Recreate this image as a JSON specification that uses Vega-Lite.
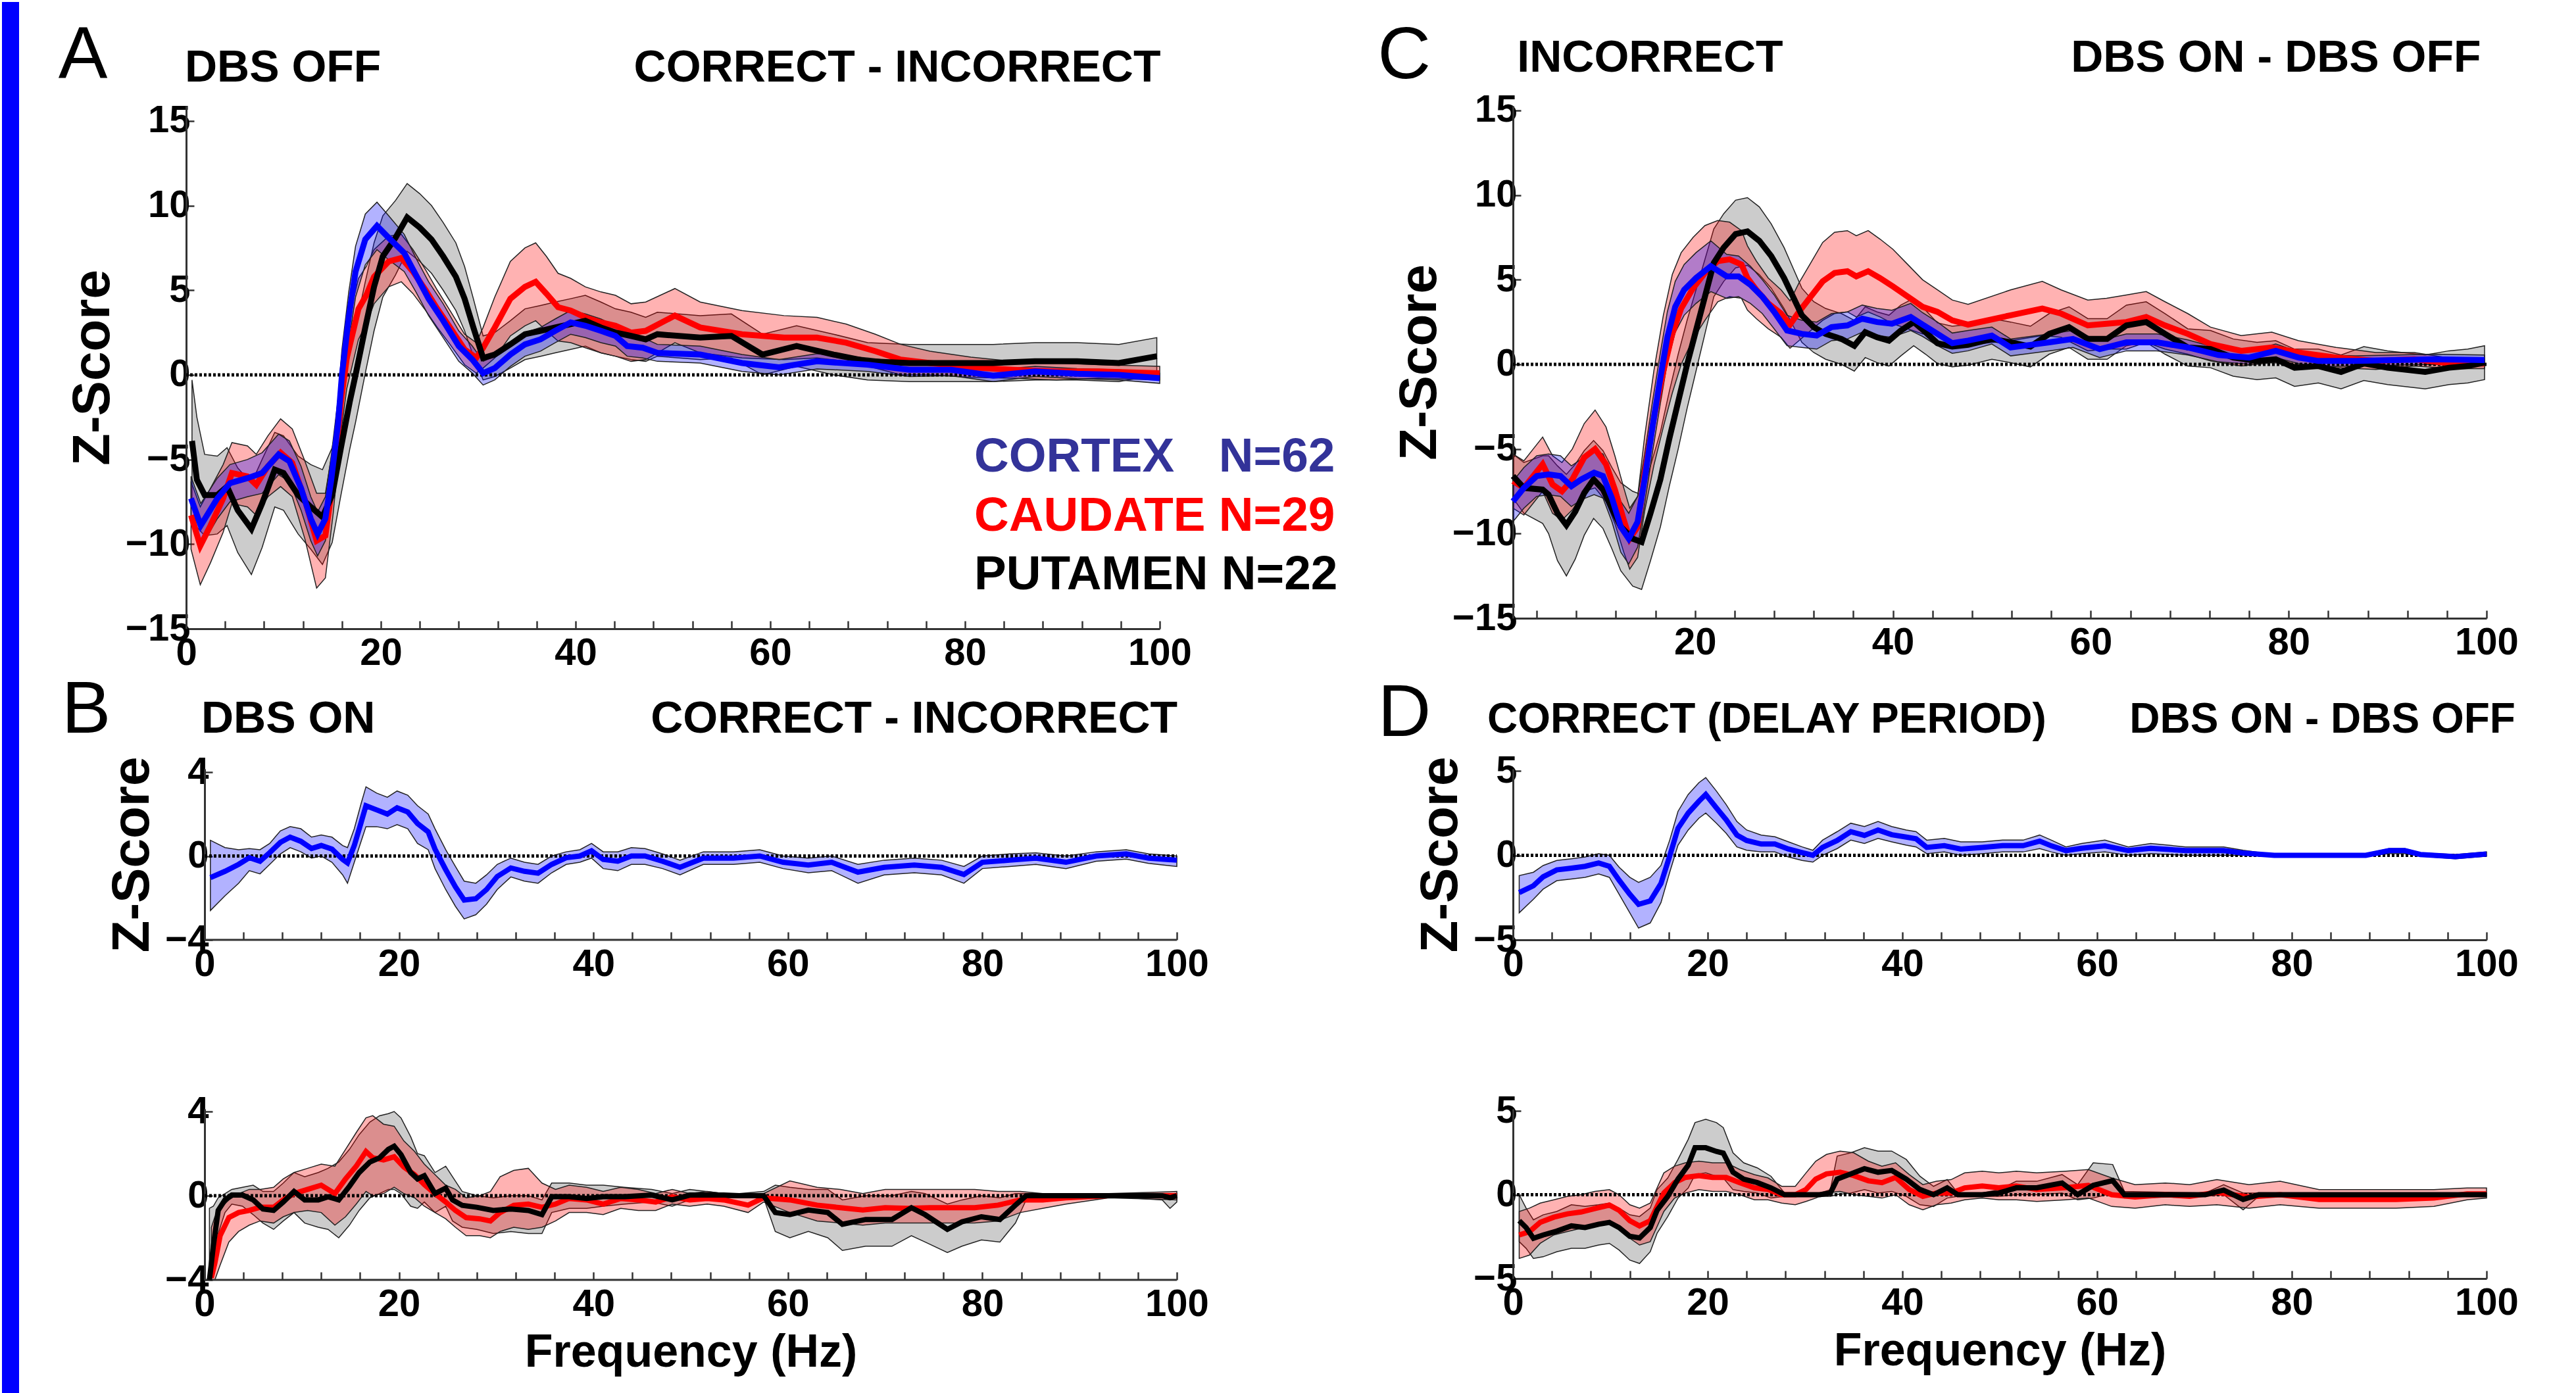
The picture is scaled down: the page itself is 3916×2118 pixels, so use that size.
{
"$schema":"https://vega.github.io/schema/vega-lite/v6.json",
"background":"white",
"padding":{"left":3,"top":0,"right":0,"bottom":0},
"datasets":{
"Ab":[{"f":0.5,"m":-7.3,"lo":-8.6,"hi":-6.0},{"f":1.5,"m":-8.9,"lo":-10.2,"hi":-7.6},{"f":3.2,"m":-7.3,"lo":-8.5,"hi":-6.1},{"f":4.5,"m":-6.4,"lo":-7.5,"hi":-5.3},{"f":6.3,"m":-6.1,"lo":-7.2,"hi":-5.0},{"f":7.8,"m":-5.8,"lo":-7.0,"hi":-4.6},{"f":9.5,"m":-4.7,"lo":-5.9,"hi":-3.5},{"f":10.6,"m":-5.1,"lo":-6.3,"hi":-3.9},{"f":11.8,"m":-6.7,"lo":-8.0,"hi":-5.4},{"f":12.8,"m":-8.5,"lo":-9.8,"hi":-7.2},{"f":13.5,"m":-9.4,"lo":-10.7,"hi":-8.1},{"f":14.3,"m":-8.5,"lo":-9.8,"hi":-7.2},{"f":14.9,"m":-6.2,"lo":-7.6,"hi":-4.8},{"f":15.6,"m":-2.9,"lo":-4.4,"hi":-1.4},{"f":16.0,"m":0,"lo":-1.5,"hi":1.5},{"f":16.7,"m":3.4,"lo":1.9,"hi":4.9},{"f":17.4,"m":6.1,"lo":4.6,"hi":7.6},{"f":18.4,"m":8.0,"lo":6.5,"hi":9.5},{"f":19.6,"m":8.8,"lo":7.4,"hi":10.2},{"f":20.8,"m":8.1,"lo":6.8,"hi":9.4},{"f":22.4,"m":7.2,"lo":6.1,"hi":8.3},{"f":23.6,"m":5.9,"lo":4.9,"hi":6.9},{"f":24.9,"m":4.5,"lo":3.5,"hi":5.5},{"f":26.4,"m":3.2,"lo":2.2,"hi":4.2},{"f":28.0,"m":1.7,"lo":0.8,"hi":2.6},{"f":29.4,"m":0.9,"lo":0.1,"hi":1.7},{"f":30.5,"m":0.1,"lo":-0.6,"hi":0.8},{"f":31.7,"m":0.4,"lo":-0.3,"hi":1.1},{"f":33.3,"m":1.2,"lo":0.5,"hi":1.9},{"f":34.8,"m":1.8,"lo":1.1,"hi":2.5},{"f":36.4,"m":2.1,"lo":1.4,"hi":2.8},{"f":37.9,"m":2.6,"lo":1.9,"hi":3.3},{"f":39.5,"m":3.1,"lo":2.4,"hi":3.8},{"f":41.0,"m":2.9,"lo":2.2,"hi":3.6},{"f":42.6,"m":2.6,"lo":1.9,"hi":3.3},{"f":44.1,"m":2.3,"lo":1.7,"hi":2.9},{"f":45.3,"m":1.7,"lo":1.1,"hi":2.3},{"f":46.9,"m":1.6,"lo":1.0,"hi":2.2},{"f":48.4,"m":1.3,"lo":0.8,"hi":1.8},{"f":52.8,"m":1.2,"lo":0.7,"hi":1.7},{"f":57.1,"m":0.7,"lo":0.2,"hi":1.2},{"f":60.9,"m":0.45,"lo":0.0,"hi":0.9},{"f":64.8,"m":0.8,"lo":0.35,"hi":1.25},{"f":70.0,"m":0.6,"lo":0.2,"hi":1.0},{"f":74.3,"m":0.3,"lo":-0.1,"hi":0.7},{"f":78.6,"m":0.3,"lo":-0.05,"hi":0.65},{"f":82.9,"m":-0.05,"lo":-0.4,"hi":0.3},{"f":87.2,"m":0.2,"lo":-0.1,"hi":0.5},{"f":91.5,"m":0.07,"lo":-0.23,"hi":0.37},{"f":95.8,"m":0,"lo":-0.3,"hi":0.3},{"f":100,"m":-0.2,"lo":-0.5,"hi":0.1}],
"Ar":[{"f":0.5,"m":-8.3,"lo":-10.3,"hi":-6.3},{"f":1.45,"m":-10.1,"lo":-12.4,"hi":-7.8},{"f":2.5,"m":-8.9,"lo":-11.1,"hi":-6.7},{"f":3.8,"m":-7.3,"lo":-9.3,"hi":-5.3},{"f":4.7,"m":-5.8,"lo":-7.6,"hi":-4.0},{"f":6.3,"m":-6.0,"lo":-7.8,"hi":-4.2},{"f":7.2,"m":-6.5,"lo":-8.3,"hi":-4.7},{"f":8.4,"m":-5.4,"lo":-7.2,"hi":-3.6},{"f":9.7,"m":-4.6,"lo":-6.6,"hi":-2.6},{"f":10.9,"m":-5.2,"lo":-7.2,"hi":-3.2},{"f":12.2,"m":-7.4,"lo":-9.7,"hi":-5.1},{"f":13.4,"m":-9.8,"lo":-12.6,"hi":-7.0},{"f":14.3,"m":-9.5,"lo":-12.0,"hi":-7.0},{"f":15.1,"m":-6.2,"lo":-8.2,"hi":-4.2},{"f":15.9,"m":-1.6,"lo":-3.4,"hi":0.2},{"f":16.5,"m":1.0,"lo":-0.8,"hi":2.8},{"f":17.7,"m":3.9,"lo":2.1,"hi":5.7},{"f":18.5,"m":4.7,"lo":3.0,"hi":6.4},{"f":19.3,"m":5.8,"lo":4.2,"hi":7.4},{"f":20.8,"m":6.7,"lo":5.2,"hi":8.2},{"f":22.1,"m":6.9,"lo":5.5,"hi":8.3},{"f":23.3,"m":6.1,"lo":4.8,"hi":7.4},{"f":24.6,"m":5.0,"lo":3.8,"hi":6.2},{"f":25.8,"m":3.9,"lo":2.8,"hi":5.0},{"f":27.1,"m":2.8,"lo":1.8,"hi":3.8},{"f":28.6,"m":1.5,"lo":0.6,"hi":2.4},{"f":29.8,"m":1.0,"lo":0.1,"hi":1.9},{"f":30.5,"m":1.6,"lo":0.4,"hi":2.8},{"f":31.7,"m":2.8,"lo":1.0,"hi":4.6},{"f":33.3,"m":4.5,"lo":2.3,"hi":6.7},{"f":34.8,"m":5.2,"lo":2.9,"hi":7.5},{"f":35.9,"m":5.5,"lo":3.2,"hi":7.8},{"f":37.0,"m":4.8,"lo":2.6,"hi":7.0},{"f":38.2,"m":4.0,"lo":2.0,"hi":6.0},{"f":39.5,"m":3.8,"lo":1.9,"hi":5.7},{"f":41.0,"m":3.4,"lo":1.6,"hi":5.2},{"f":42.6,"m":3.1,"lo":1.3,"hi":4.9},{"f":44.1,"m":2.9,"lo":1.1,"hi":4.7},{"f":45.7,"m":2.5,"lo":0.8,"hi":4.2},{"f":47.2,"m":2.6,"lo":0.9,"hi":4.3},{"f":50.2,"m":3.5,"lo":1.9,"hi":5.1},{"f":52.8,"m":2.8,"lo":1.3,"hi":4.3},{"f":57.1,"m":2.4,"lo":1.0,"hi":3.8},{"f":61.4,"m":2.2,"lo":0.9,"hi":3.5},{"f":64.8,"m":2.2,"lo":1.0,"hi":3.4},{"f":67.8,"m":1.9,"lo":0.8,"hi":3.0},{"f":70.8,"m":1.4,"lo":0.4,"hi":2.4},{"f":73.4,"m":0.9,"lo":0.0,"hi":1.8},{"f":76.4,"m":0.7,"lo":0.0,"hi":1.4},{"f":80.6,"m":0.45,"lo":-0.15,"hi":1.05},{"f":84.9,"m":0.3,"lo":-0.2,"hi":0.8},{"f":89.4,"m":0.2,"lo":-0.3,"hi":0.7},{"f":93.7,"m":0.2,"lo":-0.2,"hi":0.6},{"f":100,"m":0.1,"lo":-0.3,"hi":0.5}],
"Ak":[{"f":0.6,"m":-3.9,"lo":-7.5,"hi":-0.3},{"f":1.1,"m":-6.2,"lo":-9.0,"hi":-2.5},{"f":1.9,"m":-7.1,"lo":-9.5,"hi":-4.7},{"f":3.2,"m":-7.1,"lo":-9.4,"hi":-4.8},{"f":4.2,"m":-6.6,"lo":-8.9,"hi":-4.3},{"f":5.3,"m":-8.0,"lo":-10.5,"hi":-5.5},{"f":6.7,"m":-9.1,"lo":-11.8,"hi":-6.4},{"f":7.8,"m":-7.6,"lo":-10.2,"hi":-5.0},{"f":9.1,"m":-5.6,"lo":-7.8,"hi":-3.4},{"f":10.0,"m":-5.8,"lo":-8.0,"hi":-3.6},{"f":11.5,"m":-7.1,"lo":-9.4,"hi":-4.8},{"f":12.8,"m":-7.8,"lo":-10.3,"hi":-5.3},{"f":14.0,"m":-8.4,"lo":-11.2,"hi":-5.6},{"f":15.0,"m":-7.1,"lo":-9.9,"hi":-4.3},{"f":15.9,"m":-4.3,"lo":-7.1,"hi":-1.5},{"f":16.8,"m":-1.6,"lo":-4.4,"hi":1.2},{"f":17.4,"m":0,"lo":-2.8,"hi":2.8},{"f":18.4,"m":2.8,"lo":0.1,"hi":5.5},{"f":19.3,"m":5.2,"lo":2.6,"hi":7.8},{"f":20.2,"m":7.0,"lo":4.6,"hi":9.4},{"f":21.5,"m":8.1,"lo":5.9,"hi":10.3},{"f":22.7,"m":9.3,"lo":7.3,"hi":11.3},{"f":24.0,"m":8.7,"lo":6.7,"hi":10.7},{"f":25.2,"m":8.0,"lo":6.0,"hi":10.0},{"f":26.4,"m":7.0,"lo":5.0,"hi":9.0},{"f":27.7,"m":5.8,"lo":3.8,"hi":7.8},{"f":28.6,"m":4.5,"lo":2.6,"hi":6.4},{"f":29.5,"m":2.8,"lo":1.1,"hi":4.5},{"f":30.5,"m":1.0,"lo":-0.3,"hi":2.3},{"f":31.7,"m":1.2,"lo":-0.1,"hi":2.5},{"f":33.3,"m":1.8,"lo":0.4,"hi":3.2},{"f":34.8,"m":2.4,"lo":0.9,"hi":3.9},{"f":36.4,"m":2.6,"lo":1.1,"hi":4.1},{"f":37.9,"m":2.8,"lo":1.3,"hi":4.3},{"f":39.5,"m":3.0,"lo":1.5,"hi":4.5},{"f":41.0,"m":3.2,"lo":1.7,"hi":4.7},{"f":42.6,"m":2.8,"lo":1.3,"hi":4.3},{"f":44.1,"m":2.5,"lo":1.1,"hi":3.9},{"f":45.7,"m":2.3,"lo":0.9,"hi":3.7},{"f":47.2,"m":2.1,"lo":0.8,"hi":3.4},{"f":48.4,"m":2.4,"lo":1.1,"hi":3.7},{"f":52.8,"m":2.2,"lo":0.9,"hi":3.5},{"f":56.0,"m":2.3,"lo":1.0,"hi":3.6},{"f":59.2,"m":1.2,"lo":0.0,"hi":2.4},{"f":62.7,"m":1.7,"lo":0.5,"hi":2.9},{"f":66.5,"m":1.2,"lo":0.0,"hi":2.4},{"f":70.0,"m":0.8,"lo":-0.3,"hi":1.9},{"f":74.3,"m":0.7,"lo":-0.4,"hi":1.8},{"f":78.6,"m":0.7,"lo":-0.4,"hi":1.8},{"f":82.9,"m":0.7,"lo":-0.4,"hi":1.8},{"f":87.2,"m":0.8,"lo":-0.3,"hi":1.9},{"f":91.5,"m":0.8,"lo":-0.3,"hi":1.9},{"f":95.8,"m":0.7,"lo":-0.4,"hi":1.8},{"f":99.7,"m":1.1,"lo":0.0,"hi":2.2}],
"Cb":[{"f":1.6,"m":-8.1,"lo":-9.3,"hi":-6.9},{"f":2.7,"m":-7.3,"lo":-8.5,"hi":-6.1},{"f":4.0,"m":-6.6,"lo":-7.8,"hi":-5.4},{"f":5.2,"m":-6.5,"lo":-7.7,"hi":-5.3},{"f":6.4,"m":-6.6,"lo":-7.8,"hi":-5.4},{"f":7.5,"m":-7.2,"lo":-8.4,"hi":-6.0},{"f":8.5,"m":-6.8,"lo":-8.0,"hi":-5.6},{"f":9.8,"m":-6.4,"lo":-7.7,"hi":-5.1},{"f":10.7,"m":-6.6,"lo":-7.9,"hi":-5.3},{"f":11.6,"m":-7.9,"lo":-9.3,"hi":-6.5},{"f":12.5,"m":-9.6,"lo":-11.1,"hi":-8.1},{"f":13.3,"m":-10.3,"lo":-11.8,"hi":-8.8},{"f":14.2,"m":-9.3,"lo":-10.8,"hi":-7.8},{"f":14.9,"m":-6.8,"lo":-8.3,"hi":-5.3},{"f":15.7,"m":-3.7,"lo":-5.2,"hi":-2.2},{"f":16.5,"m":-0.8,"lo":-2.3,"hi":0.7},{"f":17.2,"m":1.6,"lo":0.1,"hi":3.1},{"f":18.0,"m":3.4,"lo":1.9,"hi":4.9},{"f":18.9,"m":4.4,"lo":2.9,"hi":5.9},{"f":20.1,"m":5.1,"lo":3.6,"hi":6.6},{"f":21.6,"m":5.8,"lo":4.3,"hi":7.3},{"f":23.2,"m":5.2,"lo":3.9,"hi":6.5},{"f":24.4,"m":5.2,"lo":4.0,"hi":6.4},{"f":25.6,"m":4.7,"lo":3.6,"hi":5.8},{"f":26.8,"m":4.0,"lo":3.0,"hi":5.0},{"f":28.0,"m":3.1,"lo":2.1,"hi":4.1},{"f":29.3,"m":2.0,"lo":1.1,"hi":2.9},{"f":30.8,"m":1.8,"lo":1.0,"hi":2.6},{"f":32.3,"m":1.7,"lo":0.9,"hi":2.5},{"f":33.8,"m":2.2,"lo":1.4,"hi":3.0},{"f":35.4,"m":2.3,"lo":1.5,"hi":3.1},{"f":36.9,"m":2.7,"lo":1.9,"hi":3.5},{"f":38.4,"m":2.5,"lo":1.7,"hi":3.3},{"f":39.9,"m":2.4,"lo":1.6,"hi":3.2},{"f":41.8,"m":2.8,"lo":2.0,"hi":3.6},{"f":43.0,"m":2.35,"lo":1.65,"hi":3.05},{"f":44.5,"m":1.8,"lo":1.1,"hi":2.5},{"f":46.0,"m":1.25,"lo":0.65,"hi":1.85},{"f":47.6,"m":1.4,"lo":0.8,"hi":2.0},{"f":50.0,"m":1.7,"lo":1.2,"hi":2.2},{"f":51.9,"m":1.0,"lo":0.5,"hi":1.5},{"f":53.9,"m":1.15,"lo":0.65,"hi":1.65},{"f":55.8,"m":1.3,"lo":0.8,"hi":1.8},{"f":58.2,"m":1.5,"lo":1.0,"hi":2.0},{"f":60.9,"m":0.9,"lo":0.4,"hi":1.4},{"f":63.6,"m":1.3,"lo":0.8,"hi":1.8},{"f":66.7,"m":1.3,"lo":0.8,"hi":1.8},{"f":69.8,"m":1.0,"lo":0.55,"hi":1.45},{"f":72.9,"m":0.55,"lo":0.15,"hi":0.95},{"f":76.0,"m":0.4,"lo":0.0,"hi":0.8},{"f":78.7,"m":0.8,"lo":0.4,"hi":1.2},{"f":81.0,"m":0.4,"lo":0.05,"hi":0.75},{"f":83.0,"m":0.2,"lo":-0.15,"hi":0.55},{"f":86.8,"m":0.2,"lo":-0.1,"hi":0.5},{"f":90.7,"m":0.25,"lo":-0.05,"hi":0.55},{"f":94.6,"m":0.3,"lo":0.0,"hi":0.6},{"f":99.8,"m":0.25,"lo":-0.05,"hi":0.55}],
"Cr":[{"f":1.6,"m":-6.9,"lo":-8.5,"hi":-5.3},{"f":2.7,"m":-7.3,"lo":-8.9,"hi":-5.7},{"f":3.65,"m":-6.6,"lo":-8.2,"hi":-5.0},{"f":4.6,"m":-5.9,"lo":-7.5,"hi":-4.3},{"f":5.6,"m":-7.1,"lo":-8.8,"hi":-5.4},{"f":6.55,"m":-7.5,"lo":-9.2,"hi":-5.8},{"f":7.6,"m":-6.8,"lo":-8.6,"hi":-5.0},{"f":8.8,"m":-5.5,"lo":-7.5,"hi":-3.5},{"f":9.9,"m":-5.0,"lo":-7.3,"hi":-2.7},{"f":11.0,"m":-5.9,"lo":-8.1,"hi":-3.7},{"f":11.9,"m":-7.4,"lo":-9.4,"hi":-5.4},{"f":12.8,"m":-9.2,"lo":-11.1,"hi":-7.3},{"f":13.4,"m":-10.3,"lo":-12.1,"hi":-8.5},{"f":14.2,"m":-9.6,"lo":-11.4,"hi":-7.8},{"f":14.9,"m":-6.5,"lo":-8.7,"hi":-4.3},{"f":15.85,"m":-3.15,"lo":-5.95,"hi":-0.35},{"f":16.8,"m":-0.4,"lo":-3.7,"hi":2.9},{"f":17.7,"m":1.8,"lo":-1.7,"hi":5.3},{"f":18.6,"m":3.3,"lo":0.0,"hi":6.6},{"f":19.8,"m":4.5,"lo":1.5,"hi":7.5},{"f":21.0,"m":5.4,"lo":2.6,"hi":8.2},{"f":22.3,"m":6.1,"lo":3.7,"hi":8.5},{"f":23.5,"m":6.2,"lo":4.0,"hi":8.4},{"f":24.7,"m":5.9,"lo":3.9,"hi":7.9},{"f":25.3,"m":5.1,"lo":3.2,"hi":7.0},{"f":26.2,"m":4.4,"lo":2.7,"hi":6.1},{"f":27.4,"m":3.6,"lo":2.1,"hi":5.1},{"f":28.7,"m":3.0,"lo":1.6,"hi":4.4},{"f":29.6,"m":2.35,"lo":0.95,"hi":3.75},{"f":30.5,"m":3.1,"lo":1.4,"hi":4.8},{"f":31.7,"m":4.0,"lo":2.0,"hi":6.0},{"f":32.9,"m":4.9,"lo":2.6,"hi":7.2},{"f":34.1,"m":5.4,"lo":3.0,"hi":7.8},{"f":35.4,"m":5.5,"lo":3.1,"hi":7.9},{"f":36.3,"m":5.2,"lo":2.8,"hi":7.6},{"f":37.5,"m":5.5,"lo":3.1,"hi":7.9},{"f":38.7,"m":5.1,"lo":2.8,"hi":7.4},{"f":40.0,"m":4.6,"lo":2.4,"hi":6.8},{"f":41.5,"m":4.0,"lo":2.1,"hi":5.9},{"f":43.0,"m":3.4,"lo":1.8,"hi":5.0},{"f":44.5,"m":3.1,"lo":1.8,"hi":4.4},{"f":46.0,"m":2.6,"lo":1.4,"hi":3.8},{"f":47.6,"m":2.35,"lo":1.15,"hi":3.55},{"f":51.9,"m":2.9,"lo":1.4,"hi":4.4},{"f":55.1,"m":3.3,"lo":1.7,"hi":4.9},{"f":57.0,"m":3.0,"lo":1.6,"hi":4.4},{"f":59.7,"m":2.3,"lo":0.8,"hi":3.8},{"f":61.6,"m":2.4,"lo":0.9,"hi":3.9},{"f":63.6,"m":2.5,"lo":0.9,"hi":4.1},{"f":65.6,"m":2.8,"lo":1.3,"hi":4.3},{"f":67.5,"m":2.3,"lo":0.9,"hi":3.7},{"f":69.8,"m":1.8,"lo":0.6,"hi":3.0},{"f":72.1,"m":1.2,"lo":0.2,"hi":2.2},{"f":75.2,"m":0.8,"lo":-0.1,"hi":1.7},{"f":78.3,"m":1.0,"lo":0.1,"hi":1.9},{"f":81.0,"m":0.7,"lo":0.0,"hi":1.4},{"f":84.8,"m":0.4,"lo":-0.2,"hi":1.0},{"f":88.8,"m":0.2,"lo":-0.3,"hi":0.7},{"f":92.7,"m":0.3,"lo":-0.1,"hi":0.7},{"f":96.5,"m":0.05,"lo":-0.25,"hi":0.35},{"f":99.8,"m":0.05,"lo":-0.25,"hi":0.35}],
"Ck":[{"f":1.6,"m":-6.6,"lo":-7.9,"hi":-5.3},{"f":2.7,"m":-7.3,"lo":-8.8,"hi":-5.8},{"f":4.6,"m":-7.4,"lo":-9.4,"hi":-5.4},{"f":5.2,"m":-7.7,"lo":-10.0,"hi":-5.4},{"f":6.1,"m":-8.8,"lo":-11.6,"hi":-6.0},{"f":7.0,"m":-9.5,"lo":-12.5,"hi":-6.5},{"f":7.9,"m":-8.7,"lo":-11.5,"hi":-5.9},{"f":8.8,"m":-7.6,"lo":-10.1,"hi":-5.1},{"f":9.75,"m":-6.8,"lo":-9.1,"hi":-4.5},{"f":10.7,"m":-7.4,"lo":-9.7,"hi":-5.1},{"f":11.6,"m":-8.5,"lo":-10.9,"hi":-6.1},{"f":12.5,"m":-9.6,"lo":-12.2,"hi":-7.0},{"f":13.7,"m":-10.3,"lo":-13.1,"hi":-7.5},{"f":14.6,"m":-10.5,"lo":-13.3,"hi":-7.7},{"f":15.5,"m":-8.8,"lo":-11.6,"hi":-6.0},{"f":16.5,"m":-6.8,"lo":-9.6,"hi":-4.0},{"f":17.4,"m":-4.4,"lo":-7.2,"hi":-1.6},{"f":18.3,"m":-2.2,"lo":-5.0,"hi":0.6},{"f":19.2,"m":0,"lo":-2.6,"hi":2.6},{"f":20.1,"m":2.0,"lo":-0.4,"hi":4.4},{"f":21.0,"m":4.0,"lo":1.8,"hi":6.2},{"f":21.9,"m":6.0,"lo":4.0,"hi":8.0},{"f":22.9,"m":6.9,"lo":4.9,"hi":8.9},{"f":24.1,"m":7.7,"lo":5.7,"hi":9.7},{"f":25.3,"m":7.85,"lo":5.85,"hi":9.85},{"f":26.5,"m":7.3,"lo":5.3,"hi":9.3},{"f":27.7,"m":6.4,"lo":4.5,"hi":8.3},{"f":29.0,"m":5.1,"lo":3.3,"hi":6.9},{"f":29.9,"m":4.0,"lo":2.3,"hi":5.7},{"f":30.8,"m":2.9,"lo":1.3,"hi":4.5},{"f":32.0,"m":2.2,"lo":0.7,"hi":3.7},{"f":33.2,"m":1.8,"lo":0.3,"hi":3.3},{"f":34.8,"m":1.5,"lo":0.0,"hi":3.0},{"f":36.1,"m":1.1,"lo":-0.4,"hi":2.6},{"f":37.2,"m":1.9,"lo":0.4,"hi":3.4},{"f":38.4,"m":1.6,"lo":0.1,"hi":3.1},{"f":39.6,"m":1.4,"lo":-0.1,"hi":2.9},{"f":40.8,"m":2.0,"lo":0.5,"hi":3.5},{"f":42.1,"m":2.5,"lo":1.1,"hi":3.9},{"f":43.3,"m":1.9,"lo":0.6,"hi":3.2},{"f":44.5,"m":1.25,"lo":0.05,"hi":2.45},{"f":46.0,"m":1.05,"lo":-0.15,"hi":2.25},{"f":47.6,"m":1.15,"lo":-0.05,"hi":2.35},{"f":50.0,"m":1.5,"lo":0.3,"hi":2.7},{"f":51.9,"m":1.3,"lo":0.1,"hi":2.5},{"f":53.9,"m":1.05,"lo":-0.15,"hi":2.25},{"f":55.8,"m":1.8,"lo":0.6,"hi":3.0},{"f":57.8,"m":2.2,"lo":1.0,"hi":3.4},{"f":59.7,"m":1.5,"lo":0.3,"hi":2.7},{"f":61.65,"m":1.5,"lo":0.3,"hi":2.7},{"f":63.6,"m":2.3,"lo":1.1,"hi":3.5},{"f":65.6,"m":2.5,"lo":1.3,"hi":3.7},{"f":67.5,"m":1.8,"lo":0.6,"hi":3.0},{"f":69.8,"m":1.0,"lo":-0.1,"hi":2.1},{"f":72.1,"m":0.9,"lo":-0.2,"hi":2.0},{"f":74.4,"m":0.4,"lo":-0.7,"hi":1.5},{"f":76.8,"m":0.2,"lo":-0.9,"hi":1.3},{"f":78.7,"m":0.3,"lo":-0.8,"hi":1.4},{"f":80.6,"m":-0.2,"lo":-1.3,"hi":0.9},{"f":83.0,"m":-0.1,"lo":-1.1,"hi":0.9},{"f":85.3,"m":-0.45,"lo":-1.45,"hi":0.55},{"f":87.6,"m":0.05,"lo":-0.95,"hi":1.05},{"f":90.0,"m":-0.2,"lo":-1.2,"hi":0.8},{"f":93.8,"m":-0.45,"lo":-1.45,"hi":0.55},{"f":96.2,"m":-0.2,"lo":-1.2,"hi":0.8},{"f":98.1,"m":-0.1,"lo":-1.1,"hi":0.9},{"f":99.8,"m":0.1,"lo":-0.9,"hi":1.1}],
"B1b":[{"f":0.6,"m":-1.03,"lo":-2.6,"hi":0.75},{"f":2.1,"m":-0.73,"lo":-1.9,"hi":0.4},{"f":3.5,"m":-0.4,"lo":-1.3,"hi":0.3},{"f":4.6,"m":-0.08,"lo":-0.7,"hi":0.35},{"f":5.7,"m":-0.25,"lo":-0.85,"hi":0.3},{"f":6.7,"m":0.16,"lo":-0.4,"hi":0.6},{"f":7.8,"m":0.65,"lo":0.1,"hi":1.2},{"f":8.8,"m":0.9,"lo":0.4,"hi":1.4},{"f":9.9,"m":0.7,"lo":0.2,"hi":1.3},{"f":11.0,"m":0.36,"lo":-0.1,"hi":0.9},{"f":12.0,"m":0.5,"lo":0.0,"hi":1.0},{"f":13.1,"m":0.33,"lo":-0.3,"hi":0.9},{"f":14.2,"m":-0.16,"lo":-0.9,"hi":0.5},{"f":14.7,"m":-0.33,"lo":-1.3,"hi":0.4},{"f":15.4,"m":0.5,"lo":-0.3,"hi":1.3},{"f":16.1,"m":1.6,"lo":0.7,"hi":2.5},{"f":16.6,"m":2.4,"lo":1.4,"hi":3.3},{"f":17.7,"m":2.2,"lo":1.4,"hi":3.0},{"f":18.8,"m":2.0,"lo":1.3,"hi":2.8},{"f":19.8,"m":2.3,"lo":1.5,"hi":3.1},{"f":20.9,"m":2.1,"lo":1.3,"hi":2.9},{"f":21.9,"m":1.55,"lo":0.6,"hi":2.4},{"f":23.0,"m":1.15,"lo":0.3,"hi":2.0},{"f":23.7,"m":0.33,"lo":-0.6,"hi":1.3},{"f":24.8,"m":-0.65,"lo":-1.6,"hi":0.3},{"f":25.8,"m":-1.47,"lo":-2.4,"hi":-0.5},{"f":26.7,"m":-2.1,"lo":-3.0,"hi":-1.2},{"f":27.9,"m":-2.04,"lo":-2.8,"hi":-1.3},{"f":29.0,"m":-1.6,"lo":-2.3,"hi":-0.9},{"f":30.1,"m":-0.98,"lo":-1.6,"hi":-0.4},{"f":31.5,"m":-0.57,"lo":-1.0,"hi":-0.1},{"f":32.9,"m":-0.73,"lo":-1.2,"hi":-0.3},{"f":34.3,"m":-0.82,"lo":-1.3,"hi":-0.4},{"f":35.7,"m":-0.4,"lo":-0.8,"hi":0.0},{"f":37.2,"m":-0.08,"lo":-0.4,"hi":0.2},{"f":38.6,"m":0.0,"lo":-0.3,"hi":0.3},{"f":39.8,"m":0.25,"lo":-0.1,"hi":0.6},{"f":41.0,"m":-0.16,"lo":-0.6,"hi":0.2},{"f":42.5,"m":-0.25,"lo":-0.7,"hi":0.2},{"f":43.9,"m":0.0,"lo":-0.4,"hi":0.4},{"f":45.3,"m":0.0,"lo":-0.4,"hi":0.35},{"f":47.1,"m":-0.25,"lo":-0.6,"hi":0.1},{"f":48.9,"m":-0.54,"lo":-0.9,"hi":-0.2},{"f":51.3,"m":-0.1,"lo":-0.4,"hi":0.2},{"f":54.4,"m":-0.1,"lo":-0.4,"hi":0.2},{"f":57.1,"m":0.0,"lo":-0.3,"hi":0.3},{"f":59.5,"m":-0.3,"lo":-0.6,"hi":0.0},{"f":62.1,"m":-0.43,"lo":-0.8,"hi":-0.1},{"f":64.5,"m":-0.3,"lo":-0.7,"hi":0.0},{"f":67.2,"m":-0.77,"lo":-1.3,"hi":-0.4},{"f":69.9,"m":-0.54,"lo":-0.9,"hi":-0.2},{"f":73.0,"m":-0.43,"lo":-0.8,"hi":-0.1},{"f":75.8,"m":-0.54,"lo":-0.9,"hi":-0.2},{"f":78.1,"m":-0.88,"lo":-1.3,"hi":-0.5},{"f":80.0,"m":-0.3,"lo":-0.6,"hi":0.0},{"f":82.8,"m":-0.2,"lo":-0.5,"hi":0.1},{"f":85.5,"m":-0.1,"lo":-0.4,"hi":0.15},{"f":88.6,"m":-0.3,"lo":-0.6,"hi":0.0},{"f":91.7,"m":0.0,"lo":-0.25,"hi":0.2},{"f":94.8,"m":0.1,"lo":-0.15,"hi":0.3},{"f":97.1,"m":-0.1,"lo":-0.35,"hi":0.1},{"f":100,"m":-0.2,"lo":-0.5,"hi":0.0}],
"B2r":[{"f":0.7,"m":-3.9,"lo":-4.0,"hi":-1.5},{"f":1.06,"m":-3.2,"lo":-4.0,"hi":-1.0},{"f":1.6,"m":-1.9,"lo":-3.3,"hi":-0.6},{"f":2.5,"m":-1.04,"lo":-2.2,"hi":-0.2},{"f":3.5,"m":-0.8,"lo":-1.7,"hi":0.1},{"f":4.6,"m":-0.7,"lo":-1.4,"hi":0.3},{"f":5.7,"m":-0.55,"lo":-1.2,"hi":0.3},{"f":7.1,"m":-0.55,"lo":-1.3,"hi":0.4},{"f":8.1,"m":-0.2,"lo":-1.0,"hi":0.8},{"f":9.2,"m":0.1,"lo":-0.8,"hi":1.1},{"f":10.6,"m":0.3,"lo":-0.7,"hi":1.3},{"f":12.0,"m":0.5,"lo":-0.8,"hi":1.5},{"f":13.4,"m":0.1,"lo":-1.4,"hi":1.4},{"f":14.5,"m":0.8,"lo":-1.0,"hi":2.2},{"f":15.6,"m":1.4,"lo":-0.4,"hi":3.0},{"f":16.6,"m":2.1,"lo":0.2,"hi":3.7},{"f":17.3,"m":1.8,"lo":0.0,"hi":3.8},{"f":18.4,"m":1.7,"lo":0.1,"hi":3.4},{"f":19.5,"m":1.85,"lo":0.4,"hi":3.3},{"f":20.5,"m":1.36,"lo":0.1,"hi":2.6},{"f":21.6,"m":1.0,"lo":-0.1,"hi":2.1},{"f":22.6,"m":0.53,"lo":-0.5,"hi":1.5},{"f":23.7,"m":0.1,"lo":-0.8,"hi":1.0},{"f":24.8,"m":-0.3,"lo":-1.1,"hi":0.5},{"f":25.8,"m":-0.7,"lo":-1.5,"hi":0.3},{"f":26.9,"m":-1.04,"lo":-1.9,"hi":-0.1},{"f":28.3,"m":-1.1,"lo":-1.9,"hi":0.0},{"f":29.4,"m":-1.2,"lo":-2.0,"hi":0.2},{"f":30.4,"m":-0.8,"lo":-1.7,"hi":0.9},{"f":31.8,"m":-0.46,"lo":-1.5,"hi":1.2},{"f":33.3,"m":-0.4,"lo":-1.6,"hi":1.3},{"f":34.7,"m":-0.55,"lo":-1.5,"hi":0.6},{"f":36.1,"m":-0.4,"lo":-1.2,"hi":0.3},{"f":37.5,"m":-0.13,"lo":-0.8,"hi":0.5},{"f":39.3,"m":-0.2,"lo":-0.8,"hi":0.4},{"f":41.0,"m":-0.4,"lo":-0.9,"hi":0.2},{"f":42.8,"m":-0.13,"lo":-0.6,"hi":0.4},{"f":44.6,"m":-0.2,"lo":-0.7,"hi":0.3},{"f":46.4,"m":-0.3,"lo":-0.7,"hi":0.1},{"f":48.1,"m":-0.05,"lo":-0.4,"hi":0.3},{"f":49.9,"m":-0.2,"lo":-0.5,"hi":0.1},{"f":51.7,"m":-0.13,"lo":-0.4,"hi":0.2},{"f":53.4,"m":-0.2,"lo":-0.5,"hi":0.1},{"f":55.9,"m":-0.45,"lo":-0.8,"hi":-0.1},{"f":57.5,"m":-0.1,"lo":-0.3,"hi":0.1},{"f":60.2,"m":-0.2,"lo":-0.8,"hi":0.7},{"f":63.0,"m":-0.45,"lo":-1.2,"hi":0.4},{"f":65.4,"m":-0.57,"lo":-1.3,"hi":0.3},{"f":67.7,"m":-0.68,"lo":-1.4,"hi":0.1},{"f":70.0,"m":-0.57,"lo":-1.3,"hi":0.3},{"f":72.3,"m":-0.6,"lo":-1.3,"hi":0.3},{"f":74.6,"m":-0.57,"lo":-1.3,"hi":0.3},{"f":76.9,"m":-0.57,"lo":-1.3,"hi":0.3},{"f":79.2,"m":-0.57,"lo":-1.3,"hi":0.3},{"f":81.6,"m":-0.45,"lo":-1.2,"hi":0.2},{"f":83.9,"m":-0.2,"lo":-0.8,"hi":0.2},{"f":86.2,"m":-0.2,"lo":-0.6,"hi":0.1},{"f":88.6,"m":-0.1,"lo":-0.4,"hi":0.1},{"f":93.0,"m":0.0,"lo":-0.1,"hi":0.1},{"f":100,"m":0.0,"lo":-0.2,"hi":0.2}],
"B2k":[{"f":0.5,"m":-4.0,"lo":-4.0,"hi":-0.6},{"f":0.9,"m":-2.4,"lo":-3.6,"hi":-0.5},{"f":1.4,"m":-0.7,"lo":-1.8,"hi":-0.1},{"f":2.1,"m":-0.2,"lo":-0.8,"hi":0.1},{"f":2.8,"m":0.03,"lo":-0.4,"hi":0.3},{"f":3.9,"m":0.03,"lo":-0.5,"hi":0.4},{"f":5.0,"m":-0.2,"lo":-0.9,"hi":0.5},{"f":6.0,"m":-0.63,"lo":-1.3,"hi":0.2},{"f":7.1,"m":-0.7,"lo":-1.6,"hi":0.2},{"f":8.1,"m":-0.3,"lo":-1.2,"hi":0.6},{"f":9.2,"m":0.2,"lo":-0.8,"hi":1.1},{"f":10.3,"m":-0.2,"lo":-1.3,"hi":0.9},{"f":11.7,"m":-0.2,"lo":-1.5,"hi":1.1},{"f":12.7,"m":-0.05,"lo":-1.6,"hi":1.3},{"f":13.8,"m":-0.2,"lo":-2.0,"hi":1.6},{"f":14.9,"m":0.45,"lo":-1.4,"hi":2.2},{"f":15.9,"m":1.1,"lo":-0.7,"hi":2.9},{"f":17.0,"m":1.6,"lo":-0.1,"hi":3.5},{"f":18.0,"m":1.8,"lo":0.1,"hi":3.8},{"f":18.9,"m":2.2,"lo":0.3,"hi":3.9},{"f":19.5,"m":2.35,"lo":0.3,"hi":4.0},{"f":20.2,"m":1.95,"lo":0.1,"hi":3.7},{"f":21.2,"m":1.1,"lo":-0.5,"hi":2.8},{"f":21.9,"m":0.8,"lo":-0.6,"hi":2.0},{"f":22.6,"m":0.95,"lo":-0.3,"hi":1.9},{"f":23.7,"m":0.1,"lo":-0.8,"hi":1.1},{"f":24.8,"m":0.36,"lo":-0.5,"hi":1.4},{"f":25.5,"m":-0.2,"lo":-1.2,"hi":0.9},{"f":26.5,"m":-0.46,"lo":-1.5,"hi":0.2},{"f":28.0,"m":-0.55,"lo":-1.6,"hi":0.0},{"f":29.7,"m":-0.7,"lo":-1.8,"hi":-0.1},{"f":31.5,"m":-0.63,"lo":-1.7,"hi":0.0},{"f":33.3,"m":-0.7,"lo":-1.8,"hi":0.0},{"f":34.7,"m":-0.9,"lo":-1.8,"hi":-0.2},{"f":35.7,"m":-0.05,"lo":-0.8,"hi":0.6},{"f":37.5,"m":-0.05,"lo":-0.6,"hi":0.6},{"f":39.3,"m":-0.13,"lo":-0.6,"hi":0.5},{"f":41.0,"m":-0.05,"lo":-0.5,"hi":0.5},{"f":43.2,"m":-0.05,"lo":-0.4,"hi":0.4},{"f":46.0,"m":0.03,"lo":-0.3,"hi":0.3},{"f":48.1,"m":-0.2,"lo":-0.5,"hi":0.1},{"f":49.9,"m":0.03,"lo":-0.2,"hi":0.3},{"f":53.4,"m":0.03,"lo":-0.1,"hi":0.1},{"f":55.0,"m":0.0,"lo":-0.1,"hi":0.1},{"f":57.5,"m":0.0,"lo":-0.1,"hi":0.2},{"f":58.7,"m":-0.8,"lo":-1.7,"hi":0.5},{"f":60.2,"m":-0.9,"lo":-2.0,"hi":0.4},{"f":62.1,"m":-0.68,"lo":-1.7,"hi":0.3},{"f":64.1,"m":-0.8,"lo":-2.0,"hi":0.3},{"f":65.6,"m":-1.36,"lo":-2.6,"hi":-0.2},{"f":68.0,"m":-1.13,"lo":-2.4,"hi":0.0},{"f":70.7,"m":-1.13,"lo":-2.4,"hi":0.0},{"f":72.7,"m":-0.57,"lo":-1.9,"hi":0.2},{"f":74.1,"m":-0.9,"lo":-2.2,"hi":0.1},{"f":76.4,"m":-1.6,"lo":-2.7,"hi":-0.4},{"f":77.9,"m":-1.24,"lo":-2.4,"hi":-0.2},{"f":79.9,"m":-1.0,"lo":-2.1,"hi":0.0},{"f":81.8,"m":-1.13,"lo":-2.2,"hi":-0.1},{"f":83.4,"m":-0.45,"lo":-1.3,"hi":0.1},{"f":84.5,"m":0.0,"lo":-0.2,"hi":0.1},{"f":90.0,"m":0.0,"lo":-0.1,"hi":0.1},{"f":95.0,"m":0.0,"lo":-0.1,"hi":0.1},{"f":98.5,"m":0.0,"lo":-0.2,"hi":0.1},{"f":99.3,"m":-0.1,"lo":-0.6,"hi":0.1},{"f":100,"m":0.0,"lo":-0.3,"hi":0.1}],
"D1b":[{"f":0.64,"m":-2.2,"lo":-3.4,"hi":-1.2},{"f":2.1,"m":-1.8,"lo":-2.6,"hi":-1.0},{"f":3.1,"m":-1.27,"lo":-2.0,"hi":-0.6},{"f":4.5,"m":-0.86,"lo":-1.5,"hi":-0.3},{"f":6.0,"m":-0.76,"lo":-1.4,"hi":-0.2},{"f":7.4,"m":-0.65,"lo":-1.3,"hi":-0.1},{"f":8.8,"m":-0.45,"lo":-1.1,"hi":0.1},{"f":9.9,"m":-0.65,"lo":-1.3,"hi":0.0},{"f":10.9,"m":-1.47,"lo":-2.3,"hi":-0.7},{"f":12.0,"m":-2.3,"lo":-3.4,"hi":-1.3},{"f":12.9,"m":-2.9,"lo":-4.3,"hi":-1.6},{"f":14.1,"m":-2.7,"lo":-4.0,"hi":-1.3},{"f":15.2,"m":-1.67,"lo":-2.8,"hi":-0.6},{"f":16.1,"m":-0.04,"lo":-1.0,"hi":0.9},{"f":16.95,"m":1.6,"lo":0.6,"hi":2.6},{"f":18.0,"m":2.5,"lo":1.5,"hi":3.6},{"f":19.1,"m":3.2,"lo":2.2,"hi":4.3},{"f":19.8,"m":3.6,"lo":2.5,"hi":4.6},{"f":20.9,"m":2.8,"lo":1.9,"hi":3.8},{"f":21.9,"m":2.1,"lo":1.3,"hi":3.0},{"f":23.0,"m":1.2,"lo":0.5,"hi":2.0},{"f":24.0,"m":0.88,"lo":0.3,"hi":1.5},{"f":25.5,"m":0.67,"lo":0.2,"hi":1.2},{"f":26.9,"m":0.67,"lo":0.2,"hi":1.1},{"f":28.3,"m":0.37,"lo":-0.1,"hi":0.8},{"f":29.7,"m":0.16,"lo":-0.3,"hi":0.5},{"f":30.8,"m":0.0,"lo":-0.4,"hi":0.3},{"f":31.8,"m":0.47,"lo":0.0,"hi":0.9},{"f":33.3,"m":0.88,"lo":0.4,"hi":1.4},{"f":34.7,"m":1.4,"lo":0.9,"hi":1.9},{"f":36.1,"m":1.18,"lo":0.7,"hi":1.7},{"f":37.5,"m":1.5,"lo":1.0,"hi":2.0},{"f":38.9,"m":1.22,"lo":0.8,"hi":1.7},{"f":40.4,"m":1.08,"lo":0.6,"hi":1.5},{"f":41.4,"m":0.98,"lo":0.5,"hi":1.4},{"f":42.5,"m":0.47,"lo":0.1,"hi":0.9},{"f":44.3,"m":0.57,"lo":0.2,"hi":1.0},{"f":46.0,"m":0.37,"lo":0.0,"hi":0.8},{"f":48.2,"m":0.47,"lo":0.1,"hi":0.8},{"f":50.3,"m":0.57,"lo":0.2,"hi":0.9},{"f":52.4,"m":0.57,"lo":0.2,"hi":0.9},{"f":54.1,"m":0.84,"lo":0.4,"hi":1.2},{"f":55.3,"m":0.56,"lo":0.2,"hi":0.9},{"f":56.8,"m":0.28,"lo":0.0,"hi":0.5},{"f":58.4,"m":0.42,"lo":0.1,"hi":0.7},{"f":60.8,"m":0.56,"lo":0.2,"hi":0.9},{"f":63.2,"m":0.28,"lo":0.0,"hi":0.5},{"f":65.5,"m":0.42,"lo":0.1,"hi":0.7},{"f":69.1,"m":0.28,"lo":0.0,"hi":0.5},{"f":73.0,"m":0.28,"lo":0.0,"hi":0.5},{"f":75.0,"m":0.14,"lo":0.0,"hi":0.3},{"f":78.2,"m":0.0,"lo":-0.05,"hi":0.05},{"f":84.0,"m":0.0,"lo":-0.05,"hi":0.05},{"f":87.6,"m":0.0,"lo":-0.05,"hi":0.1},{"f":90.0,"m":0.28,"lo":0.1,"hi":0.4},{"f":91.6,"m":0.28,"lo":0.1,"hi":0.4},{"f":93.2,"m":0.05,"lo":-0.05,"hi":0.15},{"f":96.8,"m":-0.08,"lo":-0.2,"hi":0.05},{"f":100,"m":0.08,"lo":-0.05,"hi":0.2}],
"D2r":[{"f":0.64,"m":-2.4,"lo":-3.8,"hi":-1.0},{"f":1.7,"m":-2.2,"lo":-3.6,"hi":-0.8},{"f":2.8,"m":-1.65,"lo":-2.9,"hi":-0.5},{"f":4.2,"m":-1.34,"lo":-2.4,"hi":-0.3},{"f":5.6,"m":-1.14,"lo":-2.2,"hi":-0.1},{"f":7.0,"m":-1.03,"lo":-2.0,"hi":0.0},{"f":8.4,"m":-0.83,"lo":-1.8,"hi":0.2},{"f":9.9,"m":-0.62,"lo":-1.6,"hi":0.3},{"f":10.9,"m":-0.93,"lo":-1.9,"hi":0.0},{"f":12.0,"m":-1.55,"lo":-2.6,"hi":-0.6},{"f":13.0,"m":-1.86,"lo":-3.0,"hi":-0.8},{"f":14.1,"m":-1.55,"lo":-2.8,"hi":-0.5},{"f":14.8,"m":-0.72,"lo":-1.9,"hi":0.4},{"f":15.5,"m":0.1,"lo":-1.0,"hi":1.3},{"f":16.6,"m":0.72,"lo":-0.2,"hi":1.7},{"f":17.7,"m":1.03,"lo":0.1,"hi":1.9},{"f":19.1,"m":1.14,"lo":0.3,"hi":2.0},{"f":20.5,"m":1.03,"lo":0.2,"hi":1.9},{"f":21.9,"m":1.03,"lo":0.2,"hi":1.9},{"f":23.3,"m":0.72,"lo":0.0,"hi":1.5},{"f":24.8,"m":0.41,"lo":-0.3,"hi":1.2},{"f":26.2,"m":0.31,"lo":-0.3,"hi":1.0},{"f":27.6,"m":0.0,"lo":-0.5,"hi":0.5},{"f":29.0,"m":0.0,"lo":-0.6,"hi":0.5},{"f":30.1,"m":0.31,"lo":-0.4,"hi":1.3},{"f":31.1,"m":0.93,"lo":-0.2,"hi":2.0},{"f":32.2,"m":1.24,"lo":0.1,"hi":2.4},{"f":33.6,"m":1.34,"lo":0.2,"hi":2.6},{"f":35.0,"m":1.14,"lo":0.0,"hi":2.5},{"f":36.5,"m":0.83,"lo":-0.1,"hi":2.0},{"f":37.9,"m":0.72,"lo":-0.2,"hi":1.7},{"f":39.3,"m":1.03,"lo":0.0,"hi":1.9},{"f":40.7,"m":0.31,"lo":-0.6,"hi":1.2},{"f":42.1,"m":-0.1,"lo":-0.9,"hi":0.6},{"f":43.5,"m":0.1,"lo":-0.6,"hi":0.8},{"f":45.0,"m":0.1,"lo":-0.5,"hi":0.9},{"f":46.4,"m":0.41,"lo":-0.3,"hi":1.3},{"f":48.2,"m":0.52,"lo":-0.2,"hi":1.4},{"f":49.9,"m":0.41,"lo":-0.3,"hi":1.3},{"f":51.7,"m":0.52,"lo":-0.3,"hi":1.4},{"f":53.8,"m":0.31,"lo":-0.4,"hi":1.3},{"f":56.8,"m":0.42,"lo":-0.3,"hi":1.4},{"f":59.1,"m":0.56,"lo":-0.2,"hi":1.5},{"f":61.5,"m":0.0,"lo":-0.7,"hi":1.0},{"f":63.9,"m":-0.14,"lo":-0.8,"hi":0.6},{"f":67.0,"m":0.0,"lo":-0.6,"hi":0.7},{"f":69.5,"m":-0.1,"lo":-0.7,"hi":0.6},{"f":72.3,"m":0.14,"lo":-0.6,"hi":0.9},{"f":75.6,"m":-0.14,"lo":-0.8,"hi":0.6},{"f":78.8,"m":0.0,"lo":-0.6,"hi":0.8},{"f":82.8,"m":-0.28,"lo":-0.8,"hi":0.3},{"f":86.8,"m":-0.28,"lo":-0.8,"hi":0.3},{"f":90.7,"m":-0.28,"lo":-0.8,"hi":0.3},{"f":94.6,"m":-0.2,"lo":-0.7,"hi":0.3},{"f":98.0,"m":0.05,"lo":-0.3,"hi":0.4},{"f":100,"m":0.05,"lo":-0.2,"hi":0.4}],
"D2k":[{"f":0.64,"m":-1.55,"lo":-2.8,"hi":0.0},{"f":1.35,"m":-1.96,"lo":-3.2,"hi":-0.8},{"f":2.1,"m":-2.6,"lo":-3.8,"hi":-1.5},{"f":3.1,"m":-2.4,"lo":-3.7,"hi":-1.2},{"f":4.5,"m":-2.17,"lo":-3.4,"hi":-1.0},{"f":6.0,"m":-1.86,"lo":-3.2,"hi":-0.6},{"f":7.4,"m":-1.96,"lo":-3.2,"hi":-0.7},{"f":8.8,"m":-1.76,"lo":-3.0,"hi":-0.6},{"f":9.9,"m":-1.65,"lo":-2.9,"hi":-0.5},{"f":10.9,"m":-1.96,"lo":-3.3,"hi":-0.8},{"f":12.0,"m":-2.48,"lo":-3.9,"hi":-1.2},{"f":13.0,"m":-2.58,"lo":-4.1,"hi":-1.3},{"f":14.1,"m":-1.96,"lo":-3.4,"hi":-0.8},{"f":14.8,"m":-0.93,"lo":-2.3,"hi":0.3},{"f":15.9,"m":-0.1,"lo":-1.3,"hi":1.0},{"f":16.95,"m":0.93,"lo":-0.2,"hi":2.1},{"f":18.0,"m":1.76,"lo":0.4,"hi":3.3},{"f":18.7,"m":2.8,"lo":1.2,"hi":4.3},{"f":19.8,"m":2.8,"lo":1.3,"hi":4.5},{"f":20.9,"m":2.58,"lo":1.1,"hi":4.3},{"f":21.6,"m":2.48,"lo":1.0,"hi":4.0},{"f":22.6,"m":1.34,"lo":0.3,"hi":2.5},{"f":23.7,"m":0.93,"lo":0.2,"hi":1.9},{"f":25.1,"m":0.72,"lo":0.1,"hi":1.6},{"f":26.5,"m":0.41,"lo":-0.2,"hi":1.1},{"f":27.9,"m":0.0,"lo":-0.1,"hi":0.1},{"f":29.4,"m":0.0,"lo":-0.1,"hi":0.1},{"f":31.5,"m":0.0,"lo":-0.1,"hi":0.1},{"f":32.6,"m":0.1,"lo":-0.1,"hi":0.3},{"f":33.3,"m":0.93,"lo":0.0,"hi":2.3},{"f":34.7,"m":1.24,"lo":0.1,"hi":2.5},{"f":36.1,"m":1.55,"lo":0.3,"hi":2.8},{"f":37.5,"m":1.34,"lo":0.1,"hi":2.6},{"f":38.9,"m":1.45,"lo":0.2,"hi":2.6},{"f":40.4,"m":0.93,"lo":-0.1,"hi":2.1},{"f":41.8,"m":0.31,"lo":-0.6,"hi":1.1},{"f":43.2,"m":0.0,"lo":-0.7,"hi":0.5},{"f":44.6,"m":0.41,"lo":-0.2,"hi":0.9},{"f":45.7,"m":0.0,"lo":-0.1,"hi":0.1},{"f":48.2,"m":0.0,"lo":-0.1,"hi":0.1},{"f":49.9,"m":0.1,"lo":-0.1,"hi":0.3},{"f":51.7,"m":0.41,"lo":0.0,"hi":0.8},{"f":53.8,"m":0.41,"lo":0.0,"hi":0.8},{"f":56.4,"m":0.7,"lo":0.1,"hi":1.2},{"f":58.0,"m":0.0,"lo":-0.3,"hi":0.6},{"f":59.6,"m":0.56,"lo":-0.2,"hi":1.9},{"f":61.6,"m":0.84,"lo":0.1,"hi":1.8},{"f":62.8,"m":0.0,"lo":-0.2,"hi":0.2},{"f":71.1,"m":0.0,"lo":-0.1,"hi":0.1},{"f":73.0,"m":0.28,"lo":0.0,"hi":0.6},{"f":75.0,"m":-0.28,"lo":-0.9,"hi":0.1},{"f":76.6,"m":0.0,"lo":-0.1,"hi":0.1},{"f":85.0,"m":0.0,"lo":-0.1,"hi":0.1},{"f":92.0,"m":0.0,"lo":-0.1,"hi":0.1},{"f":100,"m":0.0,"lo":-0.1,"hi":0.1}]
},
"columns":5,
"spacing":0,
"align":"each",
"bounds":"flush",
"concat":[
{"width":26,"height":158,"view":{"fill":"#0000ff"},"data":{"values":[{}]},"mark":{"type":"point","opacity":0}},
{"width":254,"height":1,"data":{"values":[{}]},"mark":{"type":"point","opacity":0}},
{"width":1,"height":158,"data":{"values":[{}]},"mark":{"type":"point","opacity":0}},
{"width":1,"height":1,"data":{"values":[{}]},"mark":{"type":"point","opacity":0}},
{"width":1,"height":1,"data":{"values":[{}]},"mark":{"type":"point","opacity":0}},

{"width":26,"height":795,"view":{"fill":"#0000ff"},"data":{"values":[{}]},"mark":{"type":"point","opacity":0}},
{"width":1,"height":1,"data":{"values":[{}]},"mark":{"type":"point","opacity":0}},
{"width":1480,"height":795,"layer":[
 {"data":{"name":"Ak"},"mark":{"type":"area","fill":"#000000","fillOpacity":0.2,"stroke":"#222222","strokeWidth":1.5},"encoding":{"x":{"field":"f","type":"quantitative","scale":{"domain":[0,100],"nice":false,"zero":false},"axis":{"values":[0,4,8,12,16,20,24,28,32,36,40,44,48,52,56,60,64,68,72,76,80,84,88,92,96,100],"labelExpr":"abs(datum.value - 20*round(datum.value/20)) < 0.01 ? format(datum.value, 'd') : ''","labelOverlap":false,"title":null}},"y":{"field":"lo","type":"quantitative","scale":{"domain":[-15,15.89],"nice":false,"zero":false},"axis":{"values":[-15,-10,-5,0,5,10,15],"labelOverlap":false,"title":"Z-Score"}},"y2":{"field":"hi"}}},
 {"data":{"name":"Ar"},"mark":{"type":"area","fill":"#ff0000","fillOpacity":0.3,"stroke":"#222222","strokeWidth":1.5},"encoding":{"x":{"field":"f","type":"quantitative"},"y":{"field":"lo","type":"quantitative"},"y2":{"field":"hi"}}},
 {"data":{"name":"Ab"},"mark":{"type":"area","fill":"#0000ff","fillOpacity":0.3,"stroke":"#222222","strokeWidth":1.5},"encoding":{"x":{"field":"f","type":"quantitative"},"y":{"field":"lo","type":"quantitative"},"y2":{"field":"hi"}}},
 {"data":{"values":[{}]},"mark":{"type":"rule","stroke":"#000000","strokeWidth":5,"strokeDash":[4,3]},"encoding":{"y":{"datum":0}}},
 {"data":{"name":"Ar"},"mark":{"type":"line","stroke":"#ff0000","strokeWidth":9},"encoding":{"x":{"field":"f","type":"quantitative"},"y":{"field":"m","type":"quantitative"}}},
 {"data":{"name":"Ak"},"mark":{"type":"line","stroke":"#000000","strokeWidth":9},"encoding":{"x":{"field":"f","type":"quantitative"},"y":{"field":"m","type":"quantitative"}}},
 {"data":{"name":"Ab"},"mark":{"type":"line","stroke":"#0000ff","strokeWidth":9},"encoding":{"x":{"field":"f","type":"quantitative"},"y":{"field":"m","type":"quantitative"}}},
 {"data":{"values":[{}]},"mark":{"type":"text","text":"A","font":"Liberation Sans","fontSize":112,"align":"center","baseline":"alphabetic","fill":"#000000"},"encoding":{"x":{"datum":-10.6},"y":{"datum":17.57}}},
 {"data":{"values":[{}]},"mark":{"type":"text","text":"DBS OFF","font":"Liberation Sans","fontWeight":"bold","fontSize":68,"align":"left","baseline":"alphabetic","fill":"#000000"},"encoding":{"x":{"datum":-0.14},"y":{"datum":17.33}}},
 {"data":{"values":[{}]},"mark":{"type":"text","text":"CORRECT - INCORRECT","font":"Liberation Sans","fontWeight":"bold","fontSize":68,"align":"right","baseline":"alphabetic","fill":"#000000"},"encoding":{"x":{"datum":100.1},"y":{"datum":17.33}}},
 {"data":{"values":[{}]},"mark":{"type":"text","text":"CORTEX","font":"Liberation Sans","fontWeight":"bold","fontSize":73,"align":"left","baseline":"alphabetic","fill":"#333399"},"encoding":{"x":{"datum":80.95},"y":{"datum":-5.71}}},
 {"data":{"values":[{}]},"mark":{"type":"text","text":"N=62","font":"Liberation Sans","fontWeight":"bold","fontSize":73,"align":"right","baseline":"alphabetic","fill":"#333399"},"encoding":{"x":{"datum":118.0},"y":{"datum":-5.71}}},
 {"data":{"values":[{}]},"mark":{"type":"text","text":"CAUDATE N=29","font":"Liberation Sans","fontWeight":"bold","fontSize":73,"align":"left","baseline":"alphabetic","fill":"#ff0000"},"encoding":{"x":{"datum":80.95},"y":{"datum":-9.21}}},
 {"data":{"values":[{}]},"mark":{"type":"text","text":"PUTAMEN N=22","font":"Liberation Sans","fontWeight":"bold","fontSize":73,"align":"left","baseline":"alphabetic","fill":"#000000"},"encoding":{"x":{"datum":80.95},"y":{"datum":-12.67}}}
]},
{"width":1,"height":1,"data":{"values":[{}]},"mark":{"type":"point","opacity":0}},
{"width":1480,"height":779,"layer":[
 {"data":{"name":"Ck"},"mark":{"type":"area","fill":"#000000","fillOpacity":0.2,"stroke":"#222222","strokeWidth":1.5},"encoding":{"x":{"field":"f","type":"quantitative","scale":{"domain":[1.6,100],"nice":false,"zero":false},"axis":{"values":[4,8,12,16,20,24,28,32,36,40,44,48,52,56,60,64,68,72,76,80,84,88,92,96,100],"labelExpr":"abs(datum.value - 20*round(datum.value/20)) < 0.01 ? format(datum.value, 'd') : ''","labelOverlap":false,"title":null}},"y":{"field":"lo","type":"quantitative","scale":{"domain":[-15,15.27],"nice":false,"zero":false},"axis":{"values":[-15,-10,-5,0,5,10,15],"labelOverlap":false,"title":"Z-Score"}},"y2":{"field":"hi"}}},
 {"data":{"name":"Cr"},"mark":{"type":"area","fill":"#ff0000","fillOpacity":0.3,"stroke":"#222222","strokeWidth":1.5},"encoding":{"x":{"field":"f","type":"quantitative"},"y":{"field":"lo","type":"quantitative"},"y2":{"field":"hi"}}},
 {"data":{"name":"Cb"},"mark":{"type":"area","fill":"#0000ff","fillOpacity":0.3,"stroke":"#222222","strokeWidth":1.5},"encoding":{"x":{"field":"f","type":"quantitative"},"y":{"field":"lo","type":"quantitative"},"y2":{"field":"hi"}}},
 {"data":{"values":[{}]},"mark":{"type":"rule","stroke":"#000000","strokeWidth":5,"strokeDash":[4,3]},"encoding":{"y":{"datum":0}}},
 {"data":{"name":"Cr"},"mark":{"type":"line","stroke":"#ff0000","strokeWidth":9},"encoding":{"x":{"field":"f","type":"quantitative"},"y":{"field":"m","type":"quantitative"}}},
 {"data":{"name":"Ck"},"mark":{"type":"line","stroke":"#000000","strokeWidth":9},"encoding":{"x":{"field":"f","type":"quantitative"},"y":{"field":"m","type":"quantitative"}}},
 {"data":{"name":"Cb"},"mark":{"type":"line","stroke":"#0000ff","strokeWidth":9},"encoding":{"x":{"field":"f","type":"quantitative"},"y":{"field":"m","type":"quantitative"}}},
 {"data":{"values":[{}]},"mark":{"type":"text","text":"C","font":"Liberation Sans","fontSize":112,"align":"center","baseline":"alphabetic","fill":"#000000"},"encoding":{"x":{"datum":-9.39},"y":{"datum":16.91}}},
 {"data":{"values":[{}]},"mark":{"type":"text","text":"INCORRECT","font":"Liberation Sans","fontWeight":"bold","fontSize":68,"align":"left","baseline":"alphabetic","fill":"#000000"},"encoding":{"x":{"datum":2.02},"y":{"datum":17.29}}},
 {"data":{"values":[{}]},"mark":{"type":"text","text":"DBS ON - DBS OFF","font":"Liberation Sans","fontWeight":"bold","fontSize":68,"align":"right","baseline":"alphabetic","fill":"#000000"},"encoding":{"x":{"datum":99.44},"y":{"datum":17.29}}}
]},

{"width":26,"height":213,"view":{"fill":"#0000ff"},"data":{"values":[{}]},"mark":{"type":"point","opacity":0}},
{"width":1,"height":1,"data":{"values":[{}]},"mark":{"type":"point","opacity":0}},
{"width":1,"height":213,"data":{"values":[{}]},"mark":{"type":"point","opacity":0}},
{"width":511,"height":1,"data":{"values":[{}]},"mark":{"type":"point","opacity":0}},
{"width":1,"height":1,"data":{"values":[{}]},"mark":{"type":"point","opacity":0}},

{"width":26,"height":260,"view":{"fill":"#0000ff"},"data":{"values":[{}]},"mark":{"type":"point","opacity":0}},
{"width":1,"height":1,"data":{"values":[{}]},"mark":{"type":"point","opacity":0}},
{"width":1506,"height":260,"layer":[
 {"data":{"name":"B1b"},"mark":{"type":"area","fill":"#0000ff","fillOpacity":0.3,"stroke":"#222222","strokeWidth":1.5},"encoding":{"x":{"field":"f","type":"quantitative","scale":{"domain":[-1.894,100],"nice":false,"zero":false},"axis":{"values":[0,4,8,12,16,20,24,28,32,36,40,44,48,52,56,60,64,68,72,76,80,84,88,92,96,100],"labelExpr":"abs(datum.value - 20*round(datum.value/20)) < 0.01 ? format(datum.value, 'd') : ''","labelOverlap":false,"title":null,"domain":false}},"y":{"field":"lo","type":"quantitative","scale":{"domain":[-4,4.157],"nice":false,"zero":false},"axis":{"values":[-4,0,4],"labelOverlap":false,"title":"Z-Score","offset":-28}},"y2":{"field":"hi"}}},
 {"data":{"values":[{}]},"mark":{"type":"rule","stroke":"#333333","strokeWidth":3},"encoding":{"x":{"datum":0},"x2":{"datum":100},"y":{"datum":-4}}},
 {"data":{"values":[{}]},"mark":{"type":"rule","stroke":"#000000","strokeWidth":5,"strokeDash":[4,3]},"encoding":{"x":{"datum":0},"x2":{"datum":100},"y":{"datum":0}}},
 {"data":{"name":"B1b"},"mark":{"type":"line","stroke":"#0000ff","strokeWidth":8},"encoding":{"x":{"field":"f","type":"quantitative"},"y":{"field":"m","type":"quantitative"}}},
 {"data":{"values":[{}]},"mark":{"type":"text","text":"B","font":"Liberation Sans","fontSize":112,"align":"center","baseline":"alphabetic","fill":"#000000"},"encoding":{"x":{"datum":-12.18},"y":{"datum":5.87}}},
 {"data":{"values":[{}]},"mark":{"type":"text","text":"DBS ON","font":"Liberation Sans","fontWeight":"bold","fontSize":68,"align":"left","baseline":"alphabetic","fill":"#000000"},"encoding":{"x":{"datum":-0.34},"y":{"datum":5.87}}},
 {"data":{"values":[{}]},"mark":{"type":"text","text":"CORRECT - INCORRECT","font":"Liberation Sans","fontWeight":"bold","fontSize":68,"align":"right","baseline":"alphabetic","fill":"#000000"},"encoding":{"x":{"datum":100.07},"y":{"datum":5.87}}}
]},
{"width":1,"height":1,"data":{"values":[{}]},"mark":{"type":"point","opacity":0}},
{"width":1480,"height":260,"layer":[
 {"data":{"name":"D1b"},"mark":{"type":"area","fill":"#0000ff","fillOpacity":0.3,"stroke":"#222222","strokeWidth":1.5},"encoding":{"x":{"field":"f","type":"quantitative","scale":{"domain":[0,100],"nice":false,"zero":false},"axis":{"values":[0,4,8,12,16,20,24,28,32,36,40,44,48,52,56,60,64,68,72,76,80,84,88,92,96,100],"labelExpr":"abs(datum.value - 20*round(datum.value/20)) < 0.01 ? format(datum.value, 'd') : ''","labelOverlap":false,"title":null}},"y":{"field":"lo","type":"quantitative","scale":{"domain":[-5,5.117],"nice":false,"zero":false},"axis":{"values":[-5,0,5],"labelOverlap":false,"title":"Z-Score"}},"y2":{"field":"hi"}}},
 {"data":{"values":[{}]},"mark":{"type":"rule","stroke":"#000000","strokeWidth":5,"strokeDash":[4,3]},"encoding":{"y":{"datum":0}}},
 {"data":{"name":"D1b"},"mark":{"type":"line","stroke":"#0000ff","strokeWidth":8},"encoding":{"x":{"field":"f","type":"quantitative"},"y":{"field":"m","type":"quantitative"}}},
 {"data":{"values":[{}]},"mark":{"type":"text","text":"D","font":"Liberation Sans","fontSize":112,"align":"center","baseline":"alphabetic","fill":"#000000"},"encoding":{"x":{"datum":-11.15},"y":{"datum":7.08}}},
 {"data":{"values":[{}]},"mark":{"type":"text","text":"CORRECT (DELAY PERIOD)","font":"Liberation Sans","fontWeight":"bold","fontSize":64,"align":"left","baseline":"alphabetic","fill":"#000000"},"encoding":{"x":{"datum":-2.64},"y":{"datum":7.24}}},
 {"data":{"values":[{}]},"mark":{"type":"text","text":"DBS ON - DBS OFF","font":"Liberation Sans","fontWeight":"bold","fontSize":64,"align":"right","baseline":"alphabetic","fill":"#000000"},"encoding":{"x":{"datum":102.97},"y":{"datum":7.24}}}
]},

{"width":26,"height":257,"view":{"fill":"#0000ff"},"data":{"values":[{}]},"mark":{"type":"point","opacity":0}},
{"width":1,"height":1,"data":{"values":[{}]},"mark":{"type":"point","opacity":0}},
{"width":1,"height":257,"data":{"values":[{}]},"mark":{"type":"point","opacity":0}},
{"width":1,"height":1,"data":{"values":[{}]},"mark":{"type":"point","opacity":0}},
{"width":1,"height":1,"data":{"values":[{}]},"mark":{"type":"point","opacity":0}},

{"width":26,"height":260,"view":{"fill":"#0000ff"},"data":{"values":[{}]},"mark":{"type":"point","opacity":0}},
{"width":1,"height":1,"data":{"values":[{}]},"mark":{"type":"point","opacity":0}},
{"width":1506,"height":260,"layer":[
 {"data":{"name":"B2k"},"mark":{"type":"area","fill":"#000000","fillOpacity":0.2,"stroke":"#222222","strokeWidth":1.5},"encoding":{"x":{"field":"f","type":"quantitative","scale":{"domain":[-1.894,100],"nice":false,"zero":false},"axis":{"values":[0,4,8,12,16,20,24,28,32,36,40,44,48,52,56,60,64,68,72,76,80,84,88,92,96,100],"labelExpr":"abs(datum.value - 20*round(datum.value/20)) < 0.01 ? format(datum.value, 'd') : ''","labelOverlap":false,"title":"Frequency (Hz)","domain":false,"titleX":767}},"y":{"field":"lo","type":"quantitative","scale":{"domain":[-4,4.125],"nice":false,"zero":false},"axis":{"values":[-4,0,4],"labelOverlap":false,"title":null,"offset":-28}},"y2":{"field":"hi"}}},
 {"data":{"name":"B2r"},"mark":{"type":"area","fill":"#ff0000","fillOpacity":0.3,"stroke":"#222222","strokeWidth":1.5},"encoding":{"x":{"field":"f","type":"quantitative"},"y":{"field":"lo","type":"quantitative"},"y2":{"field":"hi"}}},
 {"data":{"values":[{}]},"mark":{"type":"rule","stroke":"#333333","strokeWidth":3},"encoding":{"x":{"datum":0},"x2":{"datum":100},"y":{"datum":-4}}},
 {"data":{"values":[{}]},"mark":{"type":"rule","stroke":"#000000","strokeWidth":5,"strokeDash":[4,3]},"encoding":{"x":{"datum":0},"x2":{"datum":100},"y":{"datum":0}}},
 {"data":{"name":"B2r"},"mark":{"type":"line","stroke":"#ff0000","strokeWidth":8},"encoding":{"x":{"field":"f","type":"quantitative"},"y":{"field":"m","type":"quantitative"}}},
 {"data":{"name":"B2k"},"mark":{"type":"line","stroke":"#000000","strokeWidth":8},"encoding":{"x":{"field":"f","type":"quantitative"},"y":{"field":"m","type":"quantitative"}}}
]},
{"width":1,"height":1,"data":{"values":[{}]},"mark":{"type":"point","opacity":0}},
{"width":1480,"height":258,"layer":[
 {"data":{"name":"D2k"},"mark":{"type":"area","fill":"#000000","fillOpacity":0.2,"stroke":"#222222","strokeWidth":1.5},"encoding":{"x":{"field":"f","type":"quantitative","scale":{"domain":[0,100],"nice":false,"zero":false},"axis":{"values":[0,4,8,12,16,20,24,28,32,36,40,44,48,52,56,60,64,68,72,76,80,84,88,92,96,100],"labelExpr":"abs(datum.value - 20*round(datum.value/20)) < 0.01 ? format(datum.value, 'd') : ''","labelOverlap":false,"title":"Frequency (Hz)"}},"y":{"field":"lo","type":"quantitative","scale":{"domain":[-5,5.118],"nice":false,"zero":false},"axis":{"values":[-5,0,5],"labelOverlap":false,"title":null}},"y2":{"field":"hi"}}},
 {"data":{"name":"D2r"},"mark":{"type":"area","fill":"#ff0000","fillOpacity":0.3,"stroke":"#222222","strokeWidth":1.5},"encoding":{"x":{"field":"f","type":"quantitative"},"y":{"field":"lo","type":"quantitative"},"y2":{"field":"hi"}}},
 {"data":{"values":[{}]},"mark":{"type":"rule","stroke":"#000000","strokeWidth":5,"strokeDash":[4,3]},"encoding":{"y":{"datum":0}}},
 {"data":{"name":"D2r"},"mark":{"type":"line","stroke":"#ff0000","strokeWidth":8},"encoding":{"x":{"field":"f","type":"quantitative"},"y":{"field":"m","type":"quantitative"}}},
 {"data":{"name":"D2k"},"mark":{"type":"line","stroke":"#000000","strokeWidth":8},"encoding":{"x":{"field":"f","type":"quantitative"},"y":{"field":"m","type":"quantitative"}}}
]},

{"width":26,"height":175,"view":{"fill":"#0000ff"},"data":{"values":[{}]},"mark":{"type":"point","opacity":0}},
{"width":1,"height":1,"data":{"values":[{}]},"mark":{"type":"point","opacity":0}},
{"width":1,"height":175,"data":{"values":[{}]},"mark":{"type":"point","opacity":0}},
{"width":1,"height":1,"data":{"values":[{}]},"mark":{"type":"point","opacity":0}},
{"width":1,"height":1,"data":{"values":[{}]},"mark":{"type":"point","opacity":0}}
],
"config":{
 "view":{"stroke":null},
 "axis":{"domainColor":"#333333","domainWidth":3,"tickColor":"#333333","tickWidth":2.5,"tickSize":-12,"grid":false,"labelFont":"Liberation Sans","labelFontWeight":"bold","labelFontSize":58,"labelColor":"#000000","labelOverlap":false,"labelFlush":false,"labelBound":false,"titleFont":"Liberation Sans","titleFontWeight":"bold","titleFontSize":80,"titleColor":"#000000"},
 "axisX":{"labelPadding":20,"titleFontSize":70,"titlePadding":10},
 "axisY":{"labelPadding":6,"titlePadding":8}
}
}
